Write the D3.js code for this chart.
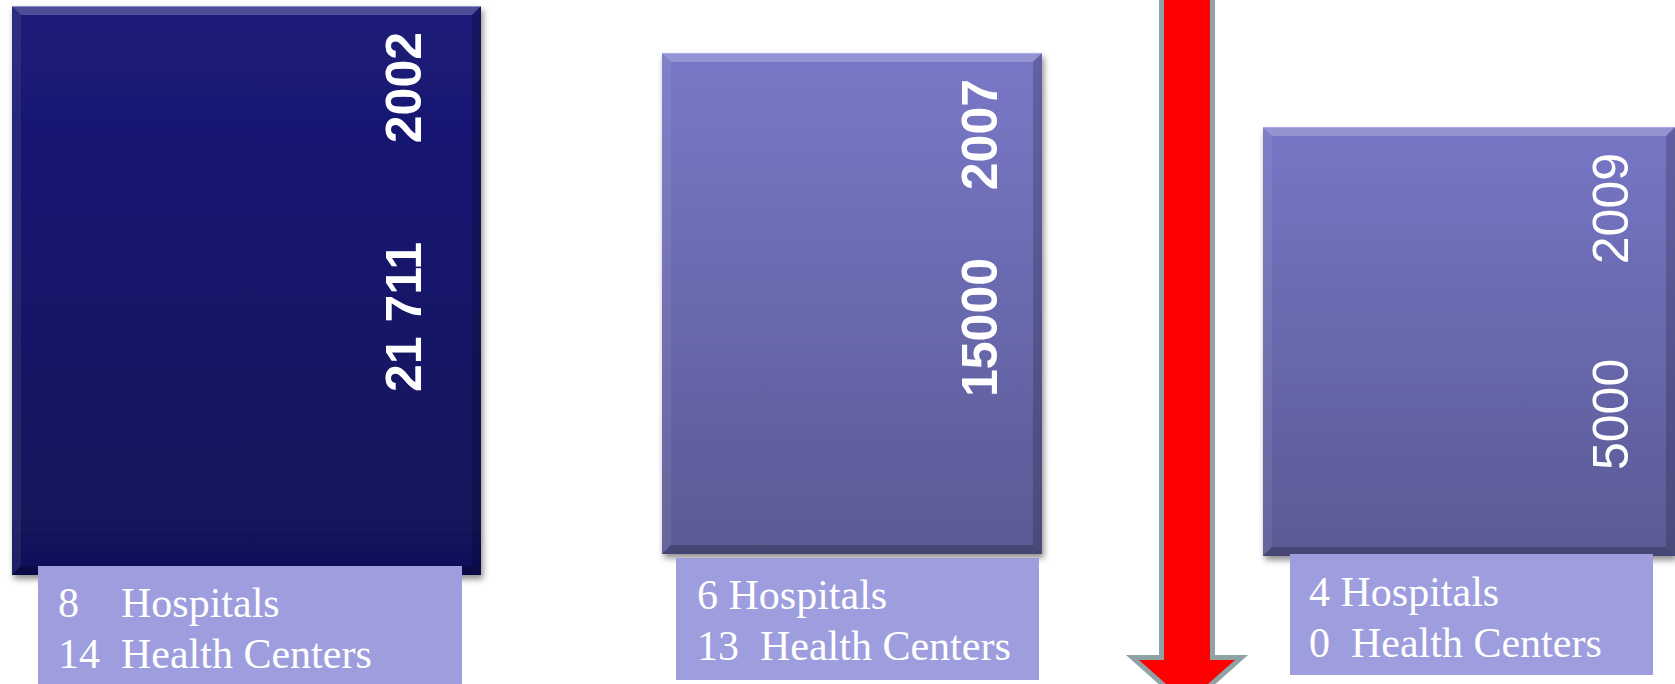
<!DOCTYPE html>
<html>
<head>
<meta charset="utf-8">
<script src="https://cdn.jsdelivr.net/npm/d3@7"></script>
<style>
  html, body { margin: 0; padding: 0; background: #fff; overflow: hidden; }
  svg { display: block; }
</style>
</head>
<body>
<svg id="chart" width="1675" height="684"></svg>
<script>
// Data
const years = ["2002", "2007", "2009"];
const totals = [21711, 15000, 5000];
const totalLabels = ["21 711", "15000", "5000"];
const hospitals = [8, 6, 4];
const healthCenters = [14, 13, 0];
const hospitalGap = ["    ", " ", " "];

const W = 1675, H = 684;
const svg = d3.select("#chart");

// Layout scales (slide layout, not proportional)
const xLeft = d3.scaleOrdinal(years, [12, 662, 1263]);
const xRight = d3.scaleOrdinal(years, [481, 1042, 1675]);
const yTop = d3.scaleLinear([5000, 15000, 21711], [127, 53, 6]);
const yBottom = d3.scaleOrdinal(years, [575, 554, 556]);
const labelInset = d3.scaleOrdinal(years, [60, 45, 47]);
const valueStart = d3.scaleOrdinal(years, [392, 397, 470]);
const boxLeft = d3.scaleOrdinal(years, [38, 676, 1290]);
const boxRight = d3.scaleOrdinal(years, [462, 1039, 1653]);
const boxTop = d3.scaleOrdinal(years, [566, 558, 554]);
const boxBottom = d3.scaleOrdinal(years, [690, 680, 675]);
const boxTextX = d3.scaleOrdinal(years, [58, 697, 1309]);
const boxBase = d3.scaleOrdinal(years, [617, 609, 606]);
const fills = d3.scaleOrdinal(years, [["#1b1b79", "#11115a"], ["#7878c8", "#5a5a95"], ["#7676c6", "#5a5a95"]]);
const boldText = d3.scaleOrdinal(years, [true, true, false]);

const rows = years.map((y, i) => ({
  year: y, total: totals[i], label: totalLabels[i],
  hosp: hospitals[i], hc: healthCenters[i], gap: hospitalGap[i]
}));

const defs = svg.append("defs");
defs.append("filter").attr("id", "shadow")
  .attr("x", "-5%").attr("y", "-5%").attr("width", "115%").attr("height", "115%")
  .append("feDropShadow")
  .attr("dx", 2).attr("dy", 4).attr("stdDeviation", 3)
  .attr("flood-color", "#000").attr("flood-opacity", 0.45);

rows.forEach((d, i) => {
  const g = defs.append("linearGradient").attr("id", "grad" + i)
    .attr("x1", 0).attr("y1", 0).attr("x2", 0).attr("y2", 1);
  g.append("stop").attr("offset", "0%").attr("stop-color", fills(d.year)[0]);
  g.append("stop").attr("offset", "100%").attr("stop-color", fills(d.year)[1]);
});

// Bars with bevel
const bars = svg.selectAll("g.bar")
  .data(rows)
  .enter()
  .append("g")
  .attr("class", "bar");

bars.append("rect")
  .attr("x", d => xLeft(d.year))
  .attr("y", d => yTop(d.total))
  .attr("width", d => xRight(d.year) - xLeft(d.year))
  .attr("height", d => yBottom(d.year) - yTop(d.total))
  .attr("fill", (d, i) => `url(#grad${i})`)
  .attr("filter", "url(#shadow)");

const bv = 9;
function bevel(d, side) {
  const x0 = xLeft(d.year), x1 = xRight(d.year);
  const y0 = yTop(d.total), y1 = yBottom(d.year);
  if (side === "top") return [[x0, y0], [x1, y0], [x1 - bv, y0 + bv], [x0 + bv, y0 + bv]];
  if (side === "left") return [[x0, y0], [x0 + bv, y0 + bv], [x0 + bv, y1 - bv], [x0, y1]];
  if (side === "right") return [[x1, y0], [x1, y1], [x1 - bv, y1 - bv], [x1 - bv, y0 + bv]];
  return [[x0, y1], [x0 + bv, y1 - bv], [x1 - bv, y1 - bv], [x1, y1]];
}
const bevelStyle = { top: ["#fff", 0.22], left: ["#fff", 0.07], right: ["#000", 0.18], bottom: ["#000", 0.22] };
Object.keys(bevelStyle).forEach(side => {
  bars.append("polygon")
    .attr("points", d => bevel(d, side).join(" "))
    .attr("fill", bevelStyle[side][0])
    .attr("fill-opacity", bevelStyle[side][1]);
});
bars.append("line")
  .attr("x1", d => xLeft(d.year)).attr("x2", d => xRight(d.year))
  .attr("y1", d => yTop(d.total) + 0.5).attr("y2", d => yTop(d.total) + 0.5)
  .attr("stroke", "#b8b8ff").attr("stroke-opacity", 0.6);

// Rotated year + value labels
bars.append("text")
  .attr("transform", d => `translate(${xRight(d.year) - labelInset(d.year)},${yTop(d.total) + 26}) rotate(-90)`)
  .attr("text-anchor", "end")
  .attr("font-family", "'Liberation Sans', Arial, sans-serif")
  .attr("font-weight", d => boldText(d.year) ? "bold" : "normal")
  .attr("font-size", 50)
  .attr("fill", "#fff")
  .text(d => d.year);

bars.append("text")
  .attr("transform", d => `translate(${xRight(d.year) - labelInset(d.year)},${valueStart(d.year)}) rotate(-90)`)
  .attr("text-anchor", "start")
  .attr("font-family", "'Liberation Sans', Arial, sans-serif")
  .attr("font-weight", d => boldText(d.year) ? "bold" : "normal")
  .attr("font-size", 50)
  .attr("fill", "#fff")
  .text(d => d.label);

// Caption boxes
const boxes = svg.selectAll("g.box")
  .data(rows)
  .enter()
  .append("g")
  .attr("class", "box");

boxes.append("rect")
  .attr("x", d => boxLeft(d.year))
  .attr("y", d => boxTop(d.year))
  .attr("width", d => boxRight(d.year) - boxLeft(d.year))
  .attr("height", d => boxBottom(d.year) - boxTop(d.year))
  .attr("fill", "#9e9ddd");

const cap = boxes.append("text")
  .attr("font-family", "'Liberation Serif', 'Times New Roman', serif")
  .attr("font-size", 42)
  .attr("fill", "#fff")
  .style("white-space", "pre");
cap.append("tspan")
  .attr("x", d => boxTextX(d.year))
  .attr("y", d => boxBase(d.year))
  .text(d => `${d.hosp}${d.gap}Hospitals`);
cap.append("tspan")
  .attr("x", d => boxTextX(d.year))
  .attr("y", d => boxBase(d.year) + 51)
  .text(d => `${d.hc}  Health Centers`);

// Down arrow between 2007 and 2009
const ax = 1187, shaftHalf = 25.5, headHalf = 54.5, headY = 657.5, tipY = 706;
const arrowPts = [
  [ax - shaftHalf, -10], [ax + shaftHalf, -10], [ax + shaftHalf, headY],
  [ax + headHalf, headY], [ax, tipY], [ax - headHalf, headY], [ax - shaftHalf, headY]
];
svg.append("path")
  .attr("d", d3.line()(arrowPts) + "Z")
  .attr("fill", "#ff0000")
  .attr("stroke", "#8fa3a6")
  .attr("stroke-width", 5)
  .attr("stroke-linejoin", "miter");
</script>
</body>
</html>
